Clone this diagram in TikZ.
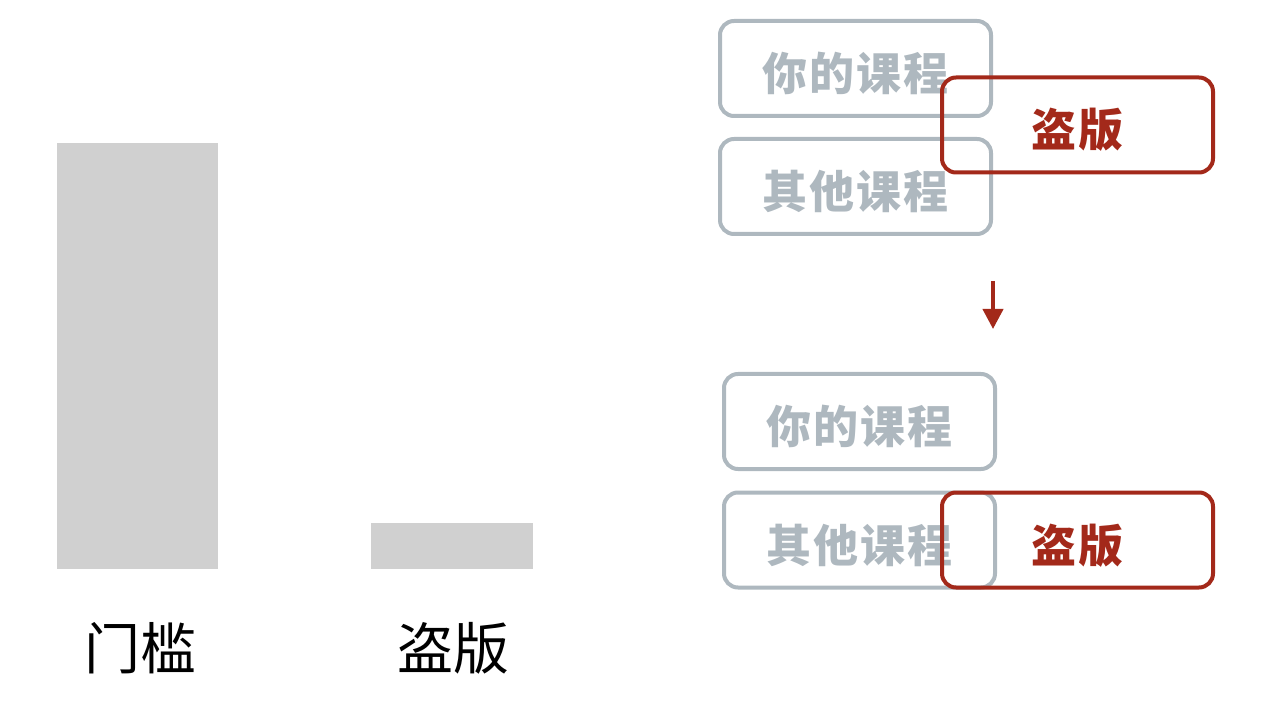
\documentclass[tikz,border=0pt]{standalone}
\usepackage{fontspec}
\newfontfamily\cjk{Noto Sans CJK SC}
\newfontfamily\cjksp{Noto Sans CJK SC}[LetterSpace=4]
\usetikzlibrary{arrows.meta}
\definecolor{bargray}{HTML}{D0D0D0}
\definecolor{boxgray}{HTML}{AEB8BF}
\definecolor{piratered}{HTML}{A3291A}
\tikzset{
  bar/.style={fill=bargray, draw=none},
  boxbase/.style={line width=4pt, rounded corners=14pt,
    minimum width=271pt, minimum height=95pt, inner sep=0pt,
    text height=44pt, text depth=0pt,
    font=\cjksp\bfseries\fontsize{45}{48}\selectfont},
  course/.style={boxbase, draw=boxgray, text=boxgray},
  pirate/.style={boxbase, draw=piratered, text=piratered},
  barlabel/.style={inner sep=0pt, text=black, font=\cjk\fontsize{56}{60}\selectfont},
  flow/.style={draw=piratered, line width=4pt, -{Triangle[width=20pt,length=20pt]}}
}
\begin{document}
\begin{tikzpicture}[x=1pt,y=-1pt]
\useasboundingbox (0,0) rectangle (1280,708);
% bars
\fill[bar] (57,143) rectangle (218,569);
\fill[bar] (371,523) rectangle (533,569);
\node[barlabel] (l1) at (140,648) {门槛};
\node[barlabel] (l2) at (453,648) {盗版};
% top group
\node[course] (a1) at (855.5,68.5) {你的课程};
\node[course] (b1) at (855.5,186.5) {其他课程};
\node[pirate] (p1) at (1077.5,125) {盗版};
% arrow
\coordinate (s) at (993,281);
\coordinate (e) at (993,329);
\draw[flow] (s) -- (e);
% bottom group
\node[course] (a2) at (859.5,421.5) {你的课程};
\node[course] (b2) at (859.5,540) {其他课程};
\node[pirate] (p2) at (1077.5,540) {盗版};
\end{tikzpicture}
\end{document}
